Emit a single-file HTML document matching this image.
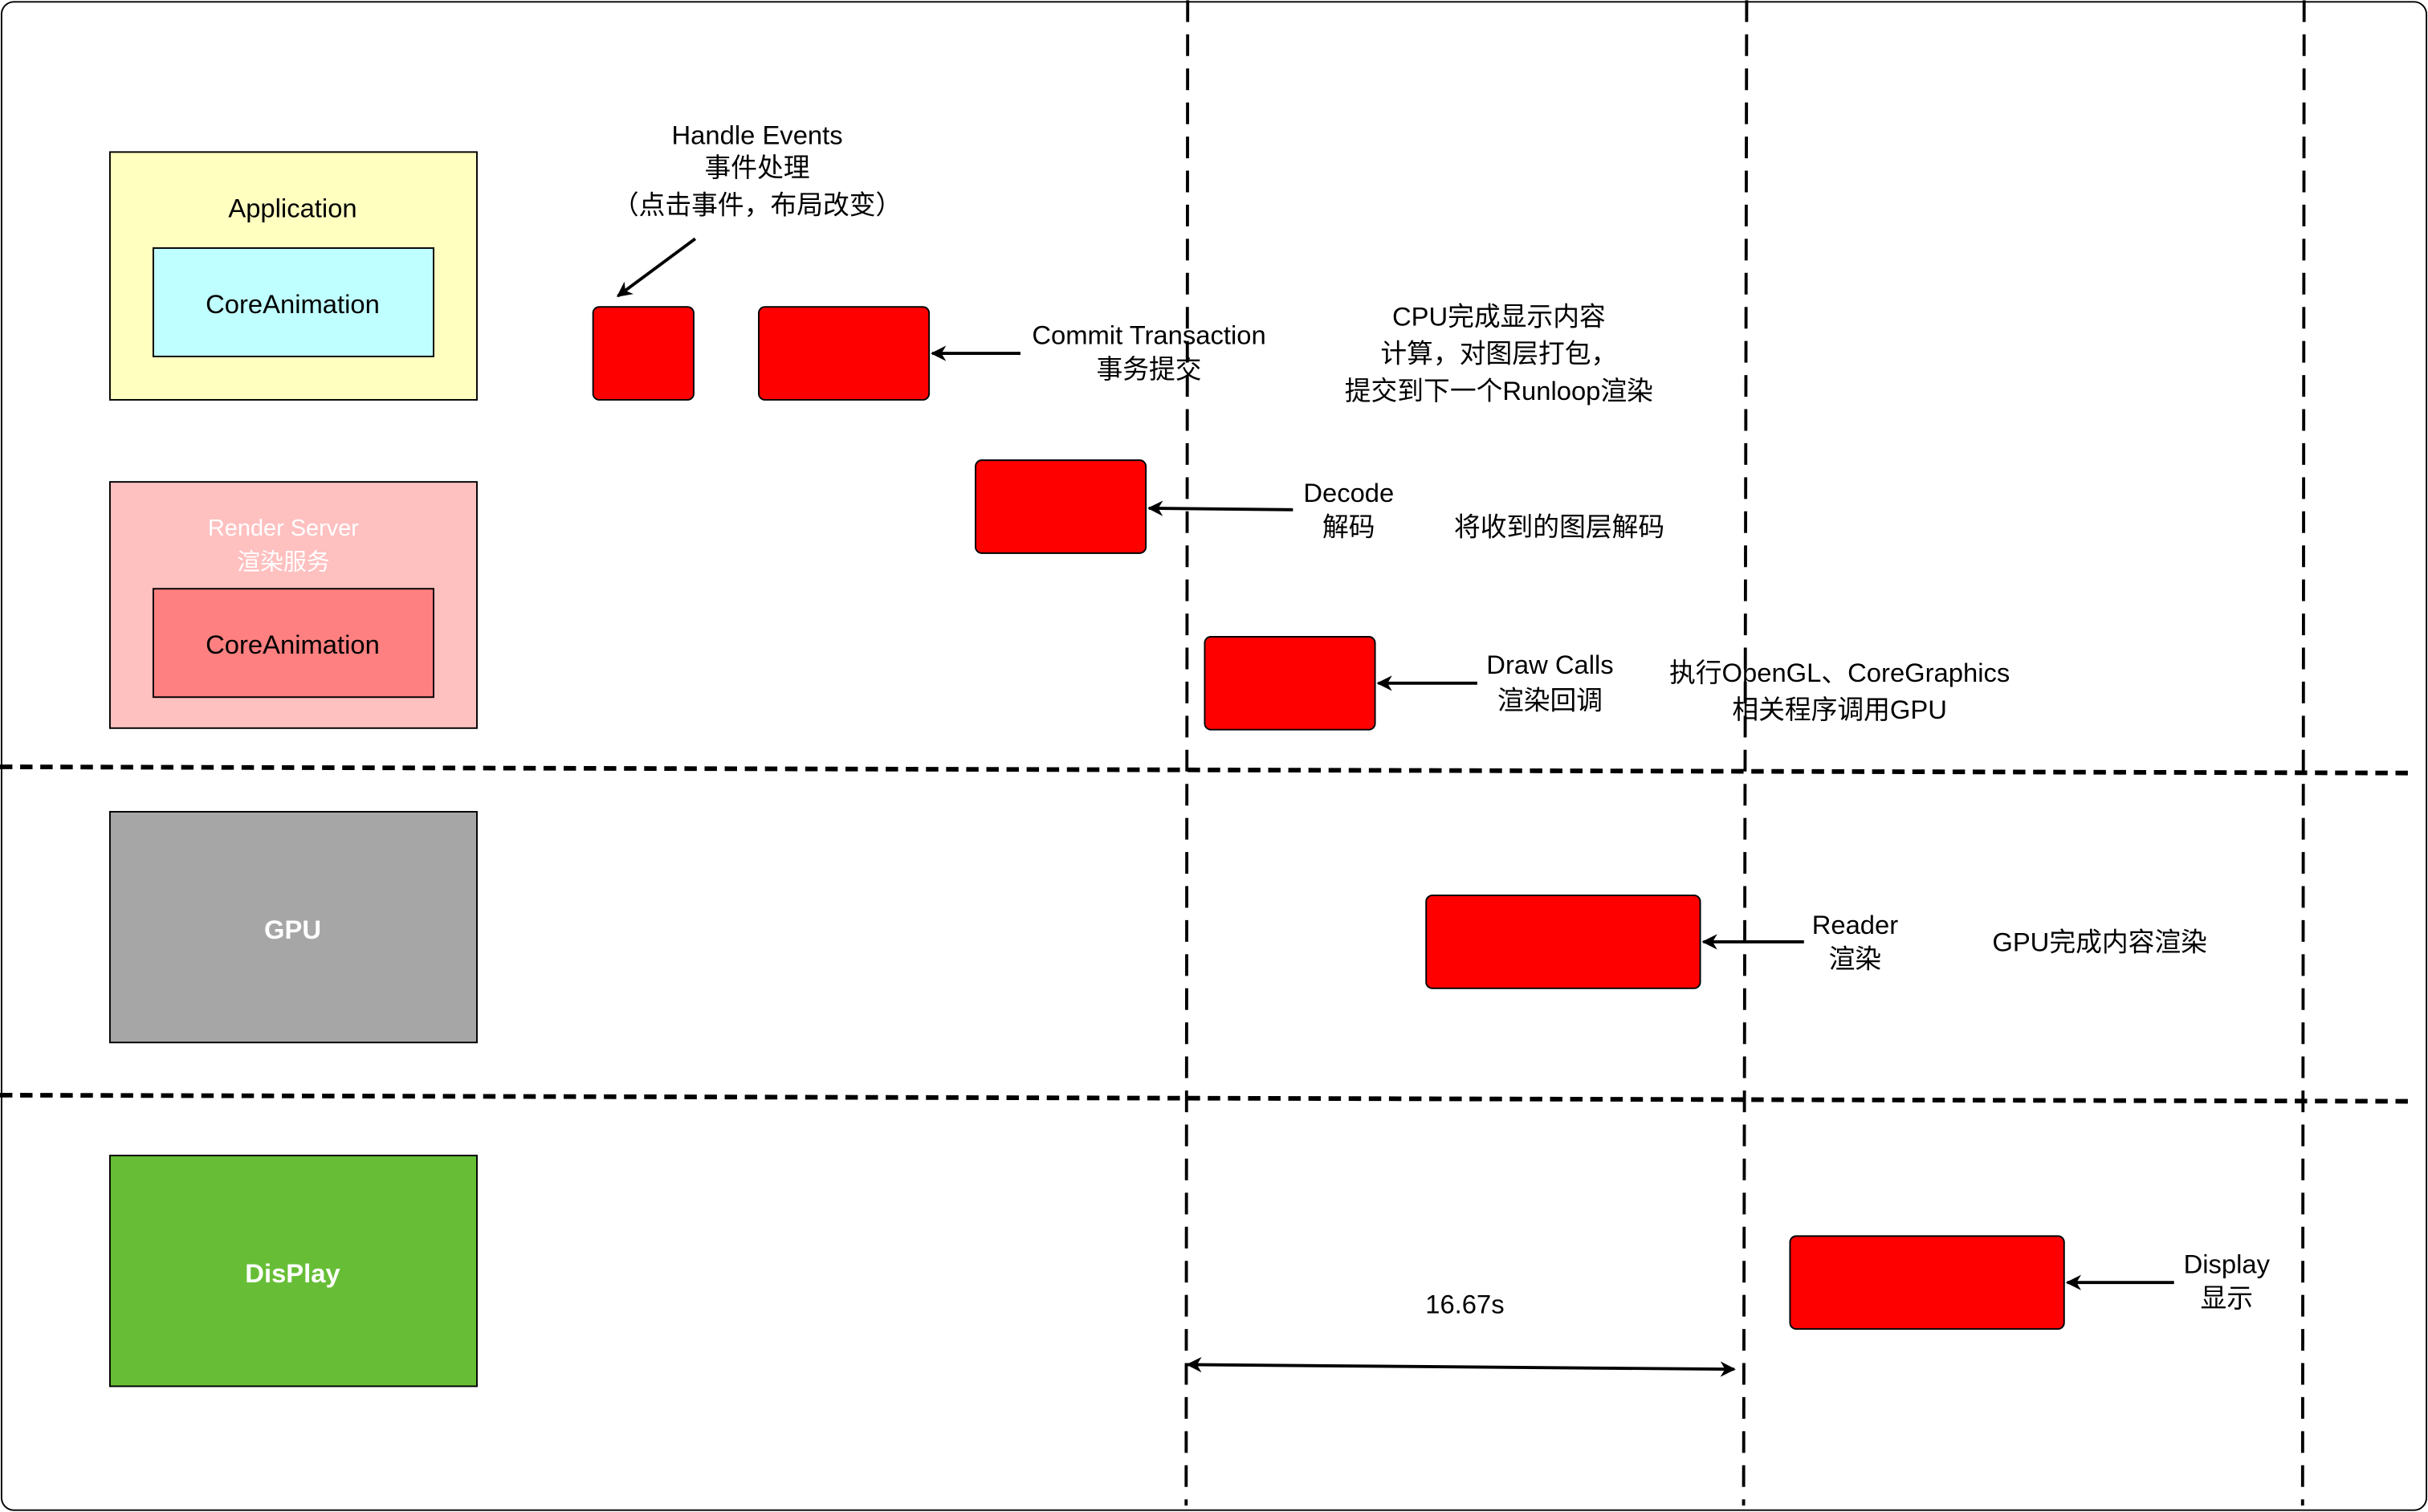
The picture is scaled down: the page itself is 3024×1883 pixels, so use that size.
<!DOCTYPE html>
<html><head><meta charset="utf-8"><style>
html,body{margin:0;padding:0;background:#fff;}
svg{display:block;}
text{font-family:"Liberation Sans","Noto Sans CJK SC",sans-serif;font-size:17px;fill:#000;text-anchor:middle;dominant-baseline:central;}
.w{fill:#fff;}
.b{font-weight:bold;fill:#fff;}
</style></head><body>
<svg width="3024" height="1883" viewBox="0 0 1568 976" xmlns="http://www.w3.org/2000/svg">
<defs>
<marker id="ah" markerWidth="10" markerHeight="10" refX="9" refY="5" orient="auto" markerUnits="userSpaceOnUse">
<path d="M0,0 L10,5 L0,10 L3,5 Z" fill="#000"/>
</marker>
<marker id="as" markerWidth="10" markerHeight="10" refX="1" refY="5" orient="auto" markerUnits="userSpaceOnUse">
<path d="M10,0 L0,5 L10,10 L7,5 Z" fill="#000"/>
</marker>
</defs>
<rect x="1" y="1" width="1566" height="974" rx="8" fill="#fff" stroke="#000" stroke-width="1"/>
<g stroke="#000" stroke-width="2" stroke-dasharray="14,8" fill="none">
<line x1="767" y1="0" x2="766" y2="972"/>
<line x1="1128" y1="0" x2="1126" y2="972"/>
<line x1="1488" y1="0" x2="1487" y2="972"/>
</g>
<g stroke="#000" stroke-width="3" stroke-dasharray="8,5" fill="none">
<line x1="0" y1="495" x2="1560" y2="499"/>
<line x1="0" y1="707" x2="1560" y2="711"/>
</g>
<rect x="71" y="98" width="237" height="160" fill="#FFFFC0" stroke="#000"/>
<text x="189" y="134">Application</text>
<rect x="99" y="160" width="181" height="70" fill="#C0FFFF" stroke="#000"/>
<text x="189" y="196">CoreAnimation</text>
<rect x="71" y="311" width="237" height="159" fill="#FFC0C0" stroke="#000"/>
<text x="183" y="341" class="w" style="font-size:15px">Render Server</text>
<text x="183" y="363" class="w" style="font-size:15px">渲染服务</text>
<rect x="99" y="380" width="181" height="70" fill="#FF8080" stroke="#000"/>
<text x="189" y="416">CoreAnimation</text>
<rect x="71" y="524" width="237" height="149" fill="#A6A6A6" stroke="#000"/>
<text x="189" y="600" class="b">GPU</text>
<rect x="71" y="746" width="237" height="149" fill="#67BE36" stroke="#000"/>
<text x="189" y="822" class="b">DisPlay</text>
<g fill="#FF0000" stroke="#000" stroke-width="1">
<rect x="383" y="198" width="65" height="60" rx="4"/>
<rect x="490" y="198" width="110" height="60" rx="4"/>
<rect x="630" y="297" width="110" height="60" rx="4"/>
<rect x="778" y="411" width="110" height="60" rx="4"/>
<rect x="921" y="578" width="177" height="60" rx="4"/>
<rect x="1156" y="798" width="177" height="60" rx="4"/>
</g>
<g stroke="#000" stroke-width="2" fill="none" marker-end="url(#ah)">
<line x1="449" y1="154" x2="399" y2="191"/>
<line x1="659" y1="228" x2="602" y2="228"/>
<line x1="835" y1="329" x2="742" y2="328"/>
<line x1="954" y1="441" x2="890" y2="441"/>
<line x1="1165" y1="608" x2="1100" y2="608"/>
<line x1="1404" y1="828" x2="1335" y2="828"/>
<line x1="767" y1="881" x2="1120" y2="884" marker-start="url(#as)"/>
</g>
<text x="489" y="87">Handle Events</text>
<text x="489" y="108">事件处理</text>
<text x="489" y="132">（点击事件，布局改变）</text>
<text x="742" y="216">Commit Transaction</text>
<text x="742" y="238">事务提交</text>
<text x="968" y="204">CPU完成显示内容</text>
<text x="968" y="228">计算，对图层打包，</text>
<text x="968" y="252">提交到下一个Runloop渲染</text>
<text x="871" y="318">Decode</text>
<text x="871" y="340">解码</text>
<text x="1007" y="340">将收到的图层解码</text>
<text x="1001" y="429">Draw Calls</text>
<text x="1001" y="452">渲染回调</text>
<text x="1188" y="434">执行OpenGL、CoreGraphics</text>
<text x="1188" y="458">相关程序调用GPU</text>
<text x="1198" y="597">Reader</text>
<text x="1198" y="619">渲染</text>
<text x="1356" y="608">GPU完成内容渲染</text>
<text x="1438" y="816">Display</text>
<text x="1438" y="838">显示</text>
<text x="946" y="842">16.67s</text>
</svg>
</body></html>
